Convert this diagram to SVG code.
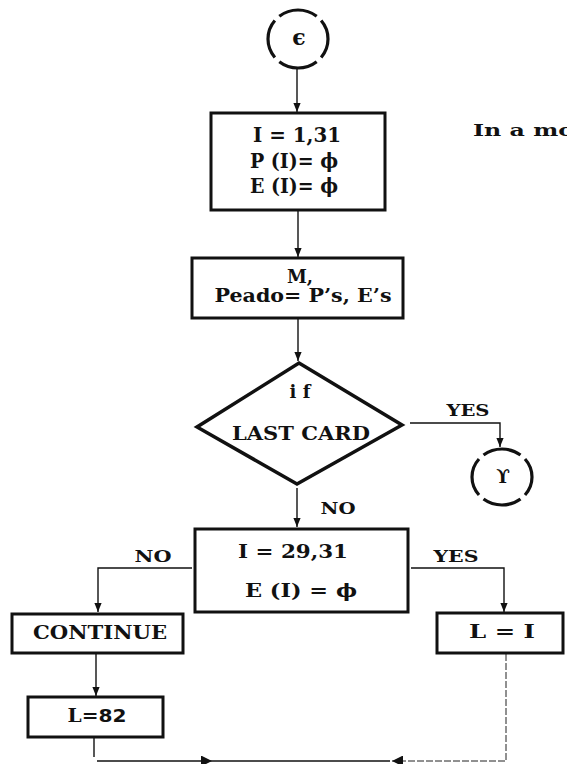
<svg xmlns="http://www.w3.org/2000/svg" width="567" height="764" viewBox="0 0 567 764">
<style>
.box{fill:none;stroke:#111;stroke-width:3}
.circ{fill:none;stroke:#111;stroke-width:3.2}
.con{fill:none;stroke:#111;stroke-width:1.4}
.thin{fill:none;stroke:#222;stroke-width:1;stroke-dasharray:7 2}
.t{font-family:"DejaVu Serif","Liberation Serif",serif;font-weight:bold;fill:#111;text-anchor:middle}
.ts{font-family:"DejaVu Serif","Liberation Serif",serif;font-weight:bold;fill:#111;text-anchor:start}
.s{font-family:"DejaVu Sans","Liberation Sans",sans-serif;font-weight:bold}
</style>
<defs>
<marker id="ah" viewBox="0 0 10 10" refX="10" refY="5" markerWidth="9" markerHeight="9" markerUnits="userSpaceOnUse" orient="auto">
<path d="M0,1 L10,5 L0,9 Z" fill="#111"/>
</marker>
<marker id="ahb" viewBox="0 0 10 10" refX="10" refY="5" markerWidth="13" markerHeight="11" markerUnits="userSpaceOnUse" orient="auto">
<path d="M0,0 L10,5 L0,10 Z" fill="#111"/>
</marker>
</defs>
<rect width="567" height="764" fill="#fff"/>

<g id="connectors">
<line class="con" x1="297" y1="68" x2="297" y2="112" marker-end="url(#ah)"/>
<line class="con" x1="298" y1="210" x2="298" y2="257" marker-end="url(#ah)"/>
<line class="con" x1="298" y1="318" x2="298" y2="361" marker-end="url(#ah)"/>
<path class="con" d="M410,423 H500 V447" marker-end="url(#ah)"/>
<line class="con" x1="297" y1="488" x2="297" y2="527" marker-end="url(#ah)"/>
<path class="con" d="M192,568 H98 V612" marker-end="url(#ah)"/>
<path class="con" d="M411,568 H504 V612" marker-end="url(#ah)"/>
<line class="con" x1="96" y1="653" x2="96" y2="696" marker-end="url(#ah)"/>
<path class="con" d="M94,737 V757"/>
<line class="con" x1="97" y1="761" x2="212" y2="761" marker-end="url(#ahb)"/>
<line class="con" x1="212" y1="761" x2="390" y2="761"/>
<path class="thin" d="M506,654 V761 H392" marker-end="url(#ahb)"/>
</g>

<g id="start">
<ellipse class="circ" cx="298" cy="39" rx="30" ry="29" pathLength="360" stroke-dasharray="78 12" stroke-dashoffset="39"/>
<text class="t" x="299" y="45" font-size="22">ϵ</text>
</g>

<g id="init">
<rect class="box" x="211" y="113" width="174" height="97"/>
<text class="t" x="297" y="142" font-size="21" textLength="88" lengthAdjust="spacingAndGlyphs">I = 1,31</text>
<text class="t" x="294" y="168" font-size="21" textLength="88" lengthAdjust="spacingAndGlyphs">P (I)= ϕ</text>
<text class="t" x="294" y="193" font-size="21" textLength="88" lengthAdjust="spacingAndGlyphs">E (I)= ϕ</text>
</g>

<g id="note">
<text class="ts" x="473" y="136" font-size="17" textLength="101" lengthAdjust="spacingAndGlyphs">In a mo</text>
</g>

<g id="read">
<rect class="box" x="192" y="258" width="211" height="60"/>
<text class="t" x="300" y="283" font-size="18">M,</text>
<text class="t" x="303" y="302" font-size="18" textLength="177" lengthAdjust="spacingAndGlyphs">Peado= P’s, E’s</text>
</g>

<g id="decision">
<polygon points="299,363 402,425 297,484 197,427" fill="none" stroke="#111" stroke-width="3.5" stroke-linejoin="miter"/>
<text class="t" x="300" y="398" font-size="18">i f</text>
<text class="t" x="301" y="440" font-size="18" textLength="138" lengthAdjust="spacingAndGlyphs">LAST CARD</text>
</g>

<g id="labels">
<text class="t" x="468" y="416" font-size="17" textLength="43" lengthAdjust="spacingAndGlyphs">YES</text>
<text class="t" x="338" y="514" font-size="17" textLength="35" lengthAdjust="spacingAndGlyphs">NO</text>
<text class="t" x="153" y="562" font-size="17" textLength="37" lengthAdjust="spacingAndGlyphs">NO</text>
<text class="t" x="456" y="562" font-size="17" textLength="45" lengthAdjust="spacingAndGlyphs">YES</text>
</g>

<g id="end">
<ellipse class="circ" cx="502" cy="477" rx="30" ry="28" pathLength="360" stroke-dasharray="78 12" stroke-dashoffset="39"/>
<text class="t" x="503" y="483" font-size="18">ϒ</text>
</g>

<g id="test">
<rect class="box" x="195" y="529" width="213" height="83"/>
<text class="t" x="293" y="558" font-size="18" textLength="110" lengthAdjust="spacingAndGlyphs">I = 29,31</text>
<text class="t" x="301" y="597" font-size="18" textLength="112" lengthAdjust="spacingAndGlyphs">E (I) = ϕ</text>
</g>

<g id="continue">
<rect class="box" x="12" y="614" width="171" height="39"/>
<text class="t" x="100" y="639" font-size="18" textLength="134" lengthAdjust="spacingAndGlyphs">CONTINUE</text>
</g>

<g id="l82">
<rect class="box" x="28" y="697" width="135" height="40"/>
<text class="t" x="97" y="722" font-size="18" textLength="59" lengthAdjust="spacingAndGlyphs">L=<tspan class="s">82</tspan></text>
</g>

<g id="li">
<rect class="box" x="437" y="613" width="126" height="40"/>
<text class="t" x="502" y="638" font-size="18" textLength="66" lengthAdjust="spacingAndGlyphs">L = I</text>
</g>
</svg>
